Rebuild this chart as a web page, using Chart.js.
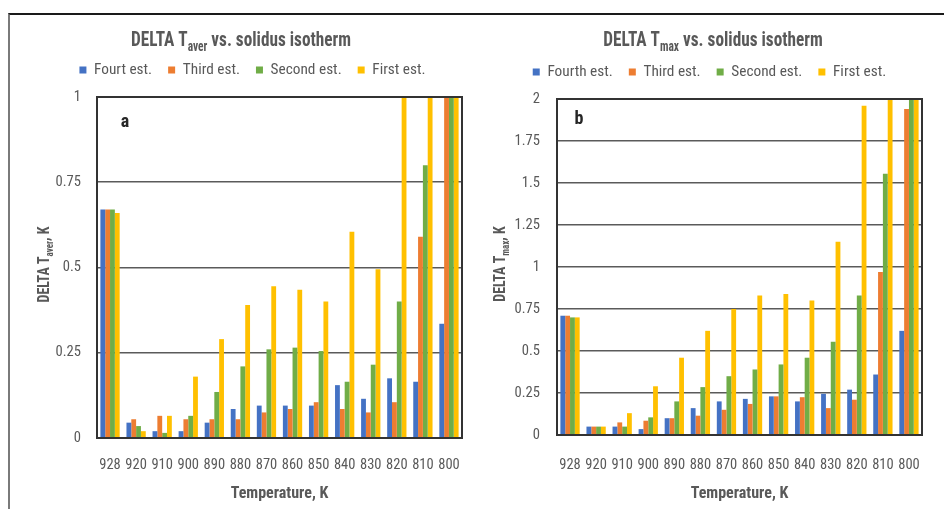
<!DOCTYPE html>
<html>
<head>
<meta charset="utf-8">
<script src="https://cdn.jsdelivr.net/npm/chart.js@4/dist/chart.umd.min.js"></script>
<style>
  html, body { margin: 0; padding: 0; background: #ffffff; }
  body { width: 944px; height: 509px; position: relative; overflow: hidden; }
  .frame { position: absolute; left: 8px; top: 13px; right: -4px; bottom: -4px;
           border-top: 2px solid #1a1a1a; border-left: 2px solid #7a7a7a; }
  canvas { position: absolute; }
  #chartAver { left: 8px; top: 14px; }
  #chartMax { left: 472px; top: 14px; }
</style>
</head>
<body>
<div class="frame"></div>
<canvas id="chartAver" width="462" height="495"></canvas>
<canvas id="chartMax" width="472" height="495"></canvas>
<script>
// Temperatures of the solidus isotherm, K
const temperatures = ['928', '920', '910', '900', '890', '880', '870', '860', '850', '840', '830', '820', '810', '800'];

// Panel a: DELTA T_aver, K
const averFourth = [0.67, 0.045, 0.02, 0.02, 0.045, 0.085, 0.095, 0.095, 0.095, 0.155, 0.115, 0.175, 0.165, 0.335];
const averThird  = [0.67, 0.055, 0.065, 0.055, 0.055, 0.055, 0.075, 0.085, 0.105, 0.085, 0.075, 0.105, 0.59, 1];
const averSecond = [0.67, 0.035, 0.015, 0.065, 0.135, 0.21, 0.26, 0.265, 0.255, 0.165, 0.215, 0.40, 0.80, 1];
const averFirst  = [0.66, 0.02, 0.065, 0.18, 0.29, 0.39, 0.445, 0.435, 0.40, 0.605, 0.495, 1, 1, 1];
const averLabels = ['Fourt est.', 'Third est.', 'Second est.', 'First est.'];
const averTicks  = [0, 0.25, 0.5, 0.75, 1];

// Panel b: DELTA T_max, K
const maxFourth = [0.71, 0.05, 0.05, 0.035, 0.10, 0.16, 0.20, 0.215, 0.23, 0.20, 0.245, 0.27, 0.36, 0.62];
const maxThird  = [0.71, 0.05, 0.075, 0.085, 0.10, 0.115, 0.15, 0.185, 0.23, 0.225, 0.16, 0.21, 0.97, 1.94];
const maxSecond = [0.70, 0.05, 0.05, 0.105, 0.20, 0.285, 0.35, 0.39, 0.42, 0.46, 0.555, 0.83, 1.555, 2];
const maxFirst  = [0.70, 0.05, 0.13, 0.29, 0.46, 0.62, 0.75, 0.83, 0.84, 0.80, 1.15, 1.96, 2, 2];
const maxLabels = ['Fourth est.', 'Third est.', 'Second est.', 'First est.'];
const maxTicks  = [0, 0.25, 0.5, 0.75, 1, 1.25, 1.5, 1.75, 2];

const seriesColors = ['#4472C4', '#ED7D31', '#70AD47', '#FFC000'];
const textColor = '#595959';

// ---- font selection: prefer a genuinely narrow face ----
const mctx = document.createElement('canvas').getContext('2d');
function measure(font, text) { mctx.font = font; return mctx.measureText(text).width; }
const PROBE = 'Fourth est. Temperature, K 0.75';
const narrowCandidates = [
  ['Liberation Sans Narrow', '', 'Liberation Sans'],
  ['Roboto Condensed', '', 'Roboto'],
  ['DejaVu Sans Condensed', '', 'DejaVu Sans'],
  ['Open Sans', 'condensed', 'Open Sans'],
  ['Noto Sans', 'condensed', 'Noto Sans'],
  ['Roboto', 'condensed', 'Roboto'],
  ['DejaVu Sans', 'condensed', 'DejaVu Sans']
];
let FACE = 'Liberation Sans', STRETCH = '';
for (const [fam, st, base] of narrowCandidates) {
  const w = measure(`${st ? st + ' ' : ''}40px '${fam}', monospace`, PROBE);
  const wb = measure(`40px '${base}', monospace`, PROBE);
  if (w < wb * 0.93 && w !== measure('40px monospace', PROBE)) { FACE = fam; STRETCH = st; break; }
}
const FAMILY = `'${FACE}', 'Liberation Sans', sans-serif`;
function weightOf(w) { return (STRETCH ? STRETCH + ' ' : '') + w; }
function fontStr(w, size) { return `${weightOf(w)} ${size}px ${FAMILY}`; }
// font size that gives a text its intended printed width
function fitSize(text, width, w, maxSize) {
  return Math.min(maxSize, Math.round(100 * width / measure(fontStr(w, 100), text) * 10) / 10);
}

const SUB = 0.66;
const SQUEEZE = 0.82;   // horizontal squeeze for the hand-drawn headings
const legendSize = fitSize('Fourt est.', 58, 'normal', 18);
const xTickSize = fitSize('928', 21.5, 'normal', 16);
const yTickSize = fitSize('0.75', 25.5, 'normal', 16);
const axisTitleSize = fitSize('Temperature, K', 98, 'bold', 17);
const yTitleSize = fitSize('DELTA T', 46, 'bold', 17) / SQUEEZE;
const titleSize = (function () {
  const w = measure(fontStr('bold', 100), 'DELTA T vs. solidus isotherm') +
            measure(fontStr('bold', 100 * SUB), 'aver');
  return Math.min(20, 100 * 220 / w) / SQUEEZE;
})();

// draws text made of [main, subscript, rest] centred at (x, y), squeezed horizontally
function drawSubscripted(ctx, parts, x, y, size, weight) {
  const mainFont = fontStr(weight, size);
  const subFont = fontStr(weight, Math.round(size * SUB));
  ctx.save();
  ctx.translate(x, y);
  ctx.scale(SQUEEZE, 1);
  ctx.font = mainFont; const w0 = ctx.measureText(parts[0]).width;
  ctx.font = subFont;  const w1 = ctx.measureText(parts[1]).width;
  ctx.font = mainFont; const w2 = ctx.measureText(parts[2]).width;
  let cx = -(w0 + w1 + w2) / 2;
  ctx.textBaseline = 'middle';
  ctx.textAlign = 'left';
  ctx.font = mainFont; ctx.fillText(parts[0], cx, 0); cx += w0;
  ctx.font = subFont;  ctx.fillText(parts[1], cx, size * 0.32); cx += w1;
  ctx.font = mainFont; ctx.fillText(parts[2], cx, 0);
  ctx.restore();
}

// chart title, panel letter, rotated y title and plot frame
const decorPlugin = {
  id: 'decor',
  afterDatasetsDraw(chart, args, opts) {
    const ctx = chart.ctx;
    const area = chart.chartArea;
    ctx.save();
    ctx.strokeStyle = '#333333';
    ctx.lineWidth = 2;
    ctx.strokeRect(area.left, area.top, area.right - area.left, area.bottom - area.top);

    ctx.fillStyle = textColor;
    drawSubscripted(ctx, opts.title, opts.titleX, opts.titleY, titleSize, 'bold');

    ctx.save();
    ctx.translate(opts.yTitleX, (area.top + area.bottom) / 2 - 3);
    ctx.rotate(-Math.PI / 2);
    drawSubscripted(ctx, opts.yTitle, 0, 0, yTitleSize, 'bold');
    ctx.restore();

    ctx.fillStyle = '#262626';
    ctx.font = fontStr('bold', 18);
    ctx.textAlign = 'center';
    ctx.textBaseline = 'middle';
    ctx.fillText(opts.letter, area.left + opts.letterDx, area.top + opts.letterDy);
    ctx.restore();
  }
};

// empty layout box that keeps a gap between the legend and the plot
function gapPlugin(height) {
  return {
    id: 'legendGap',
    beforeInit(chart) {
      Chart.layouts.addBox(chart, {
        position: 'top', weight: 0, fullSize: false,
        options: { stackWeight: 1 },
        width: 0, height: height,
        isHorizontal() { return true; },
        update(maxWidth) { this.width = maxWidth; this.height = height; },
        getPadding() { return { left: 0, top: 0, right: 0, bottom: 0 }; },
        draw() {}
      });
    }
  };
}

const LEGEND_PAD = 16;

function buildChart(id, labels, series, ticks, p) {
  const datasets = series.map((values, i) => ({
    label: labels[i],
    data: values,
    backgroundColor: seriesColors[i],
    borderWidth: 0,
    categoryPercentage: 0.74,
    barPercentage: 1.0
  }));
  // legend row centred at p.legendY, plot starting at p.plotTop (canvas px)
  const padTop = p.legendY - LEGEND_PAD - legendSize / 2;
  const gap = Math.max(0, p.plotTop - (p.legendY + legendSize / 2 + 10));
  const tickFont = { family: FAMILY, size: xTickSize, weight: weightOf('normal') };
  return new Chart(document.getElementById(id), {
    type: 'bar',
    data: { labels: temperatures, datasets },
    plugins: [decorPlugin, gapPlugin(gap)],
    options: {
      responsive: false,
      animation: false,
      devicePixelRatio: 1,
      layout: { padding: { left: p.padLeft, right: p.padRight, top: padTop, bottom: 0 } },
      plugins: {
        title: { display: false },
        tooltip: { enabled: false },
        legend: {
          display: true,
          position: 'top',
          labels: {
            boxWidth: 7, boxHeight: 7, padding: LEGEND_PAD,
            color: textColor,
            font: { family: FAMILY, size: legendSize, weight: weightOf('normal') }
          }
        },
        decor: p.decor
      },
      scales: {
        x: {
          grid: { display: false, drawTicks: false },
          border: { display: false },
          ticks: { color: textColor, padding: p.xTickCenter - 0.6 * xTickSize,
                   maxRotation: 0, autoSkip: false, font: tickFont },
          title: { display: true, text: 'Temperature, K', color: textColor,
                   padding: { top: 0, bottom: 15 - 0.6 * axisTitleSize },
                   font: { family: FAMILY, size: axisTitleSize, weight: weightOf('bold') } },
          afterFit(scale) {
            scale.height = p.xHeight;
            scale.paddingLeft = 0; scale.paddingRight = 0;
          }
        },
        y: {
          min: 0,
          max: ticks[ticks.length - 1],
          afterBuildTicks(scale) { scale.ticks = ticks.map(v => ({ value: v })); },
          grid: { color: '#5a5a5a', lineWidth: 1.6, drawTicks: false },
          border: { display: false },
          ticks: { color: textColor, padding: p.yTickPad,
                   font: { family: FAMILY, size: yTickSize, weight: weightOf('normal') },
                   callback: v => String(+Number(v).toFixed(2)) },
          afterFit(scale) {
            scale.width = p.yWidth;
            scale.paddingTop = 0; scale.paddingBottom = 0;
          }
        }
      }
    }
  });
}

buildChart('chartAver', averLabels, [averFourth, averThird, averSecond, averFirst], averTicks, {
  padLeft: 35, padRight: 8, legendY: 56, plotTop: 83, xHeight: 71, yWidth: 54,
  xTickCenter: 27, yTickPad: 16,
  decor: { title: ['DELTA T', 'aver', ' vs. solidus isotherm'], titleX: 233, titleY: 27,
           yTitle: ['DELTA T', 'aver', ', K'], yTitleX: 37, letter: 'a', letterDx: 28, letterDy: 25 }
});

buildChart('chartMax', maxLabels, [maxFourth, maxThird, maxSecond, maxFirst], maxTicks, {
  padLeft: 25, padRight: 22, legendY: 58, plotTop: 85, xHeight: 74, yWidth: 60,
  xTickCenter: 30, yTickPad: 17,
  decor: { title: ['DELTA T', 'max', ' vs. solidus isotherm'], titleX: 241, titleY: 27,
           yTitle: ['DELTA T', 'max', ', K'], yTitleX: 29, letter: 'b', letterDx: 22, letterDy: 20 }
});
</script>
</body>
</html>
